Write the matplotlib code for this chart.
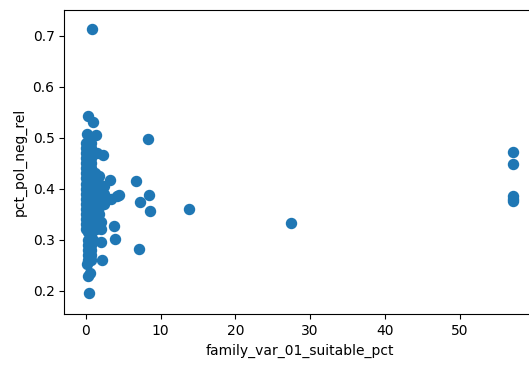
import matplotlib
matplotlib.use("Agg")
import matplotlib.pyplot as plt
import numpy as np

# Dense cluster near x ~ 0-2.5 (read column by column)
col0_y = [0.32, 0.33, 0.34, 0.35, 0.36, 0.37, 0.38, 0.39, 0.40, 0.41, 0.42,
          0.43, 0.44, 0.45, 0.46, 0.47, 0.48, 0.49]
col1_y = [0.315, 0.325, 0.335, 0.345, 0.355, 0.365, 0.375, 0.385, 0.395, 0.405,
          0.415, 0.425, 0.435, 0.445, 0.455, 0.465, 0.475, 0.485]
col2_y = [0.31, 0.32, 0.33, 0.34, 0.35, 0.36, 0.37, 0.38, 0.39, 0.40, 0.41,
          0.42, 0.43, 0.44, 0.45, 0.46, 0.47, 0.48, 0.49]
col0_x = [0.0] * len(col0_y)
col1_x = [0.35] * len(col1_y)
col2_x = [0.7] * len(col2_y)

extra_x = [1.2, 1.2, 1.2, 1.2, 1.2, 1.2, 1.2,
           1.8, 1.8, 1.8, 1.8, 1.8, 1.8,
           2.4, 2.4, 2.4,
           1.3, 2.0, 1.3, 2.0,
           0.3, 0.3, 0.3, 0.3, 0.3, 0.7, 0.7, 0.7, 0.7, 0.7,
           1.0, 0.17, 0.27, 0.6, 0.4,
           0.1, 1.3, 0.27, 0.9, 1.5, 2.3, 0.6]
extra_y = [0.34, 0.355, 0.37, 0.385, 0.40, 0.415, 0.43,
           0.35, 0.365, 0.38, 0.395, 0.41, 0.425,
           0.37, 0.39, 0.405,
           0.32, 0.32, 0.335, 0.335,
           0.30, 0.29, 0.28, 0.27, 0.26, 0.30, 0.29, 0.28, 0.27, 0.26,
           0.30, 0.252, 0.229, 0.235, 0.195,
           0.507, 0.505, 0.542, 0.531, 0.47, 0.467, 0.50]

# Scattered points away from the cluster
outlier_x = [0.8, 3.2, 4.5, 3.3, 3.7, 3.9, 2.1, 2.05, 4.1,
             6.7, 8.4, 7.2, 8.6, 7.06, 8.35, 13.8, 27.5,
             57.2, 57.2, 57.2, 57.2, 57.2]
outlier_y = [0.713, 0.417, 0.388, 0.38, 0.327, 0.301, 0.26, 0.296, 0.386,
             0.415, 0.387, 0.373, 0.357, 0.282, 0.497, 0.36, 0.332,
             0.471, 0.448, 0.385, 0.38, 0.376]

x = np.array(col0_x + col1_x + col2_x + extra_x + outlier_x)
y = np.array(col0_y + col1_y + col2_y + extra_y + outlier_y)

fig = plt.figure(figsize=(5.29, 3.65), dpi=100)
ax = fig.add_axes([0.1216, 0.1389, 0.890, 0.8337])
ax.scatter(x, y, s=52, color="#1f77b4")
ax.set_xlim(-2.88, 60.1)
ax.set_ylim(0.1537, 0.7504)
ax.set_xticks([0, 10, 20, 30, 40, 50])
ax.set_yticks([0.2, 0.3, 0.4, 0.5, 0.6, 0.7])
ax.set_xlabel("family_var_01_suitable_pct")
ax.set_ylabel("pct_pol_neg_rel")
fig.savefig("out.png", dpi=100)
